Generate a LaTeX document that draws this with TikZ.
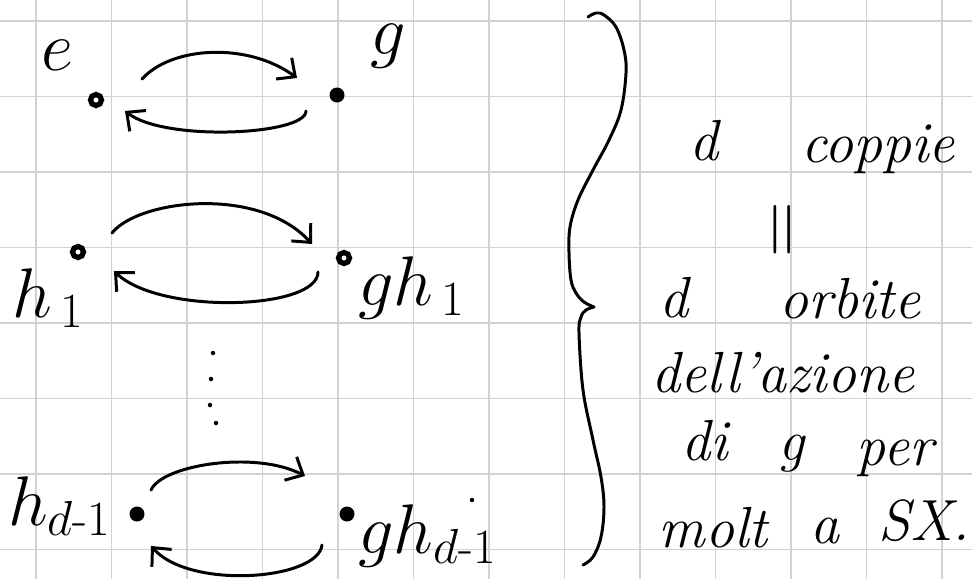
\RequirePackage{fix-cm}
\documentclass[tikz,border=0pt]{standalone}
\usepackage{amsmath}
\usetikzlibrary{arrows.meta}
\definecolor{gridgray}{RGB}{210,210,210}
\tikzset{
  gridline/.style={draw=gridgray, line width=1.1pt},
  stroke/.style={line width=1.7pt, line cap=round, line join=round},
  arr/.style={stroke, -{Straight Barb[length=8pt,width=15pt]}},
  ring/.style={circle, draw, line width=3pt, fill=white, inner sep=0pt, minimum size=0.22cm},
  blob/.style={circle, fill=black, inner sep=0pt, minimum size=0.3cm},
  speck/.style={circle, fill=black, inner sep=0pt, minimum size=0.09cm},
  lab/.style={font=\fontsize{40}{42}\selectfont, inner sep=0pt, anchor=base west},
  txt/.style={font=\fontsize{33}{35}\selectfont\itshape, inner sep=0pt, anchor=base},
}
\begin{document}
\begin{tikzpicture}[x=0.02cm, y=-0.02cm]
% squared paper
\fill[white] (0,0) rectangle (972,579);
\useasboundingbox (0,0) rectangle (972,579);
\foreach \i in {0,...,12} \draw[gridline] ({36+75.5*\i},0) -- ({36+75.5*\i},579);
\foreach \j in {0,...,7} \draw[gridline] (0,{21+75.5*\j}) -- (972,{21+75.5*\j});

% points of the pairs
\node[ring] (e) at (96,100) {};
\node[blob] (g) at (337,95) {};
\node[ring] (h1) at (78,252) {};
\node[ring] (gh1) at (344,258) {};
\node[blob] (hd) at (137,514) {};
\node[blob] (ghd) at (347,514) {};

% labels of the points
\node[lab, anchor=base] (le) at (57,70) {$e$};
\node[lab, anchor=base] (lg) at (388,54) {$g$};
\node[lab] (lh1) at (12,317) {$h_{\,1}$};
\node[lab] (lgh1) at (358,305) {$gh_{\,1}$};
\node[lab] (lhd) at (8,525) {$h_{d\text{-}1}$};
\node[lab] (lghd) at (358,553) {$gh_{d\text{-}1}$};
\node[speck] (mark) at (472,500) {};

% first pair
\draw[arr] ([shift={(46,-21)}]e.center) .. controls (172,46) and (248,42) .. ([shift={(-40,-17)}]g.center);
\draw[arr] ([shift={(-31,16)}]g.center) .. controls (306,135) and (165,142) .. ([shift={(29,11)}]e.center);

% second pair
\draw[arr] ([shift={(34,-19)}]h1.center) .. controls (138,200) and (258,185) .. ([shift={(-32,-14)}]gh1.center);
\draw[arr] ([shift={(-26,14)}]gh1.center) .. controls (318,310) and (160,315) .. ([shift={(36,19)}]h1.center);

% vertical dots
\foreach \p/\n in {{(213,353)}/v1, {(211,379)}/v2, {(210,405)}/v3, {(216,423)}/v4}
  \node[speck] (\n) at \p {};

% last pair
\draw[arr] ([shift={(14,-24)}]hd.center) .. controls (162,465) and (255,450) .. ([shift={(-42,-38)}]ghd.center);
\draw[arr] ([shift={(-25,31)}]ghd.center) .. controls (318,580) and (190,590) .. ([shift={(14,32)}]hd.center);

% curly brace
\draw[stroke] plot[smooth, tension=0.6] coordinates {(588,17) (596,13) (604,15) (616,27) (624,50) (626,73) (621,110) (609,140) (593,170) (578,200) (570,227) (569,253) (571,280) (576,293) (584,302) (594,307)};
\draw[stroke] plot[smooth, tension=0.6] coordinates {(594,307) (586,310) (581,317) (579,333) (583,390) (593,440) (601,477) (604,507) (601,537) (593,557) (583,565)};

% explanation on the right
\node[txt] (d1) at (704,160) {d};
\node[txt] (coppie) at (878,162) {coppie};
\node[font=\fontsize{44}{46}\selectfont, inner sep=0pt, rotate=90] (eq) at (788,230) {$=$};
\node[txt] (d2) at (674,317) {d};
\node[txt] (orbite) at (850,318) {orbite};
\node[txt] (azione) at (783,392) {dell'azione};
\node[txt] (di) at (705,460) {di};
\node[txt] (gg) at (792,460) {g};
\node[txt] (per) at (895,465) {per};
\node[txt] (molt) at (713,547) {molt};
\node[txt] (a) at (825,543) {a};
\node[txt] (sx) at (924,540) {SX.};
\end{tikzpicture}
\end{document}
